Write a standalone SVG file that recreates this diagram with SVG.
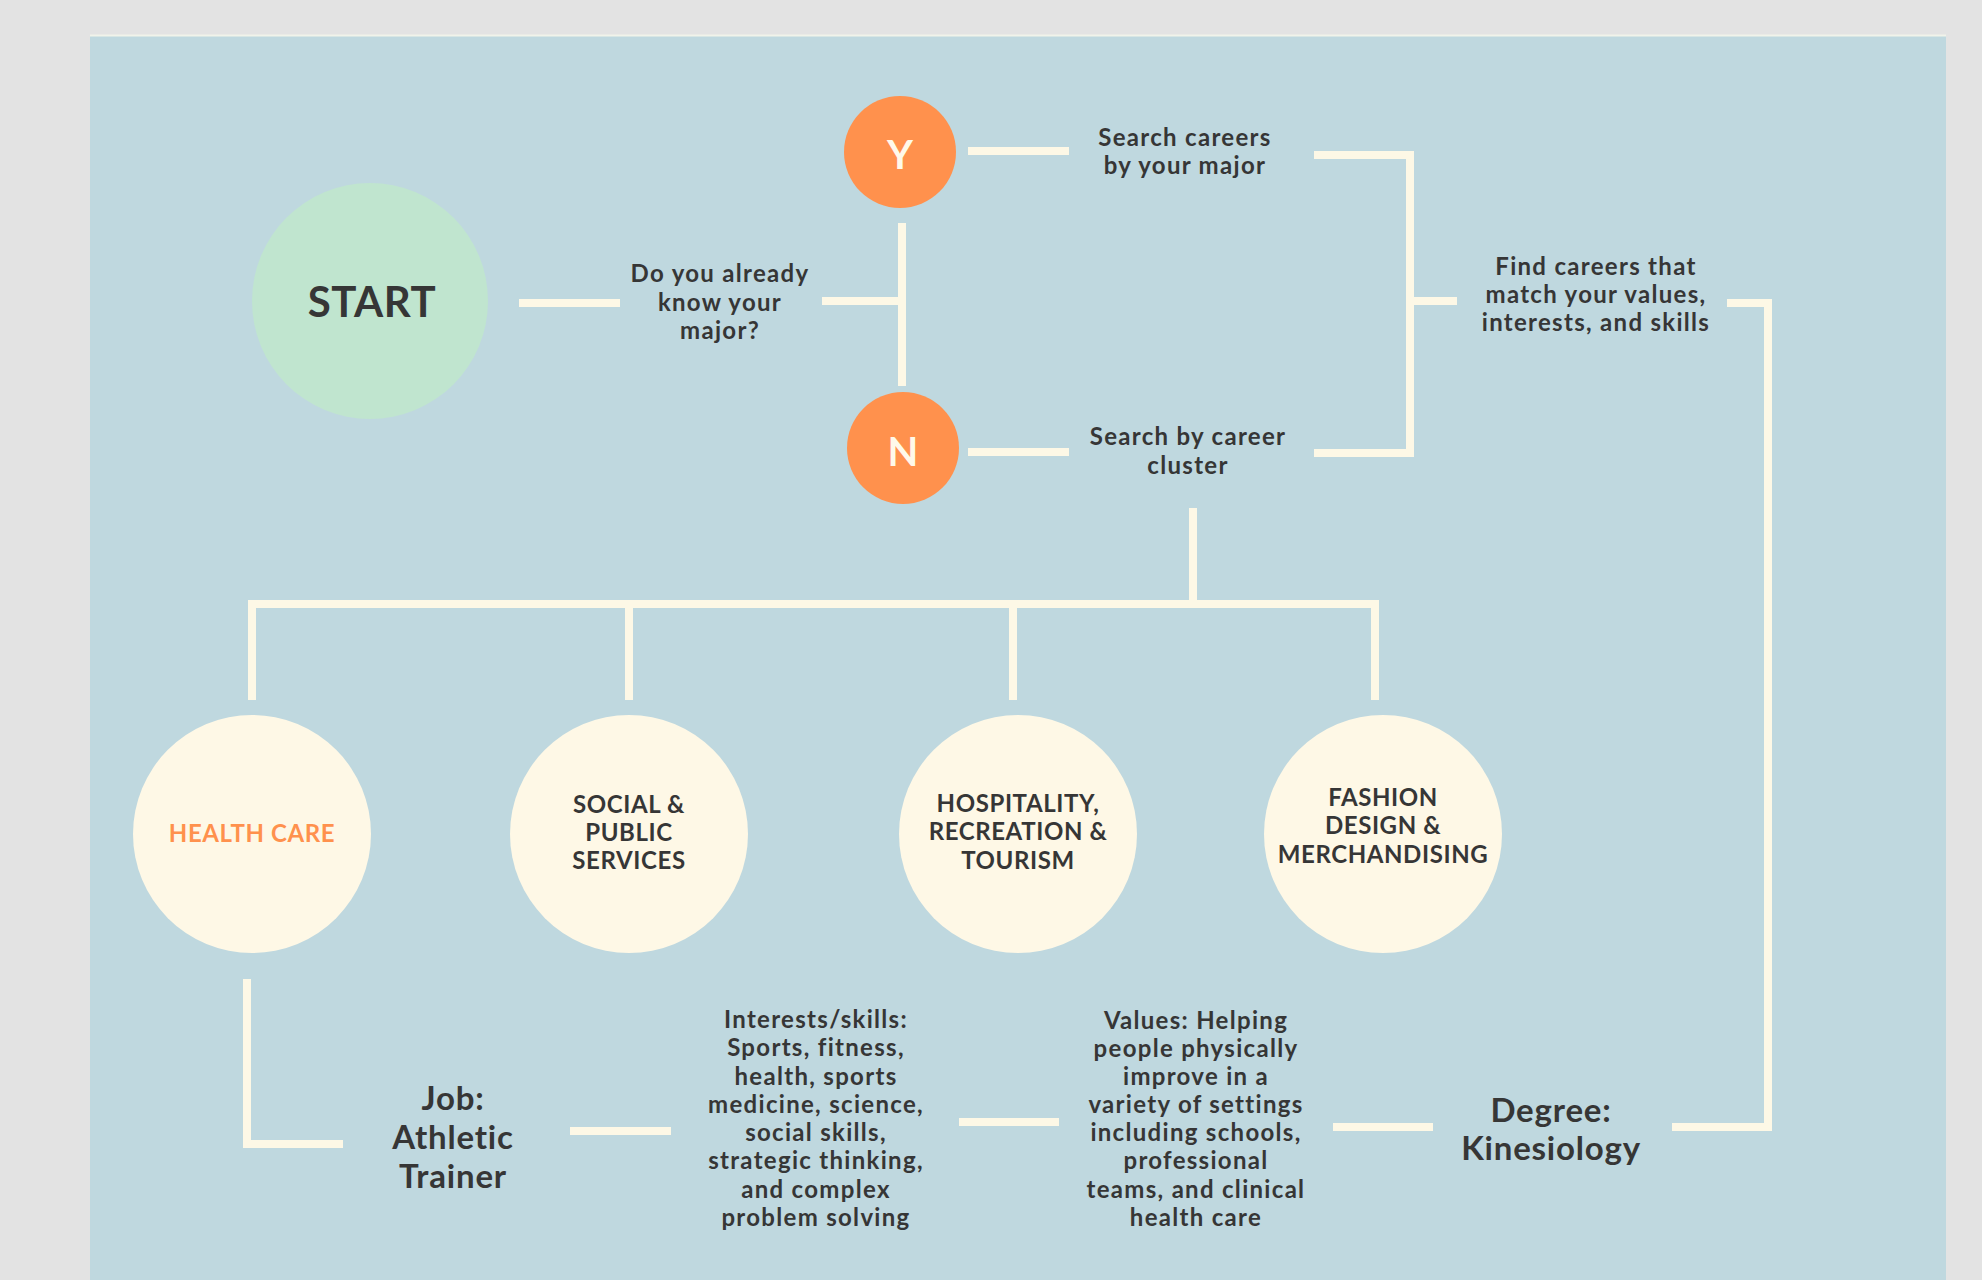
<svg xmlns="http://www.w3.org/2000/svg" width="1982" height="1280" viewBox="0 0 1982 1280">
<style>
.t{font-family:Lato,"Liberation Sans",sans-serif;font-weight:bold;fill:#363636;text-anchor:middle}
.s{font-size:24px;letter-spacing:1.3px}
.b{font-size:33px;letter-spacing:0.8px}
.c{font-size:24px;letter-spacing:0.6px}
.yn{font-family:Lato,"Liberation Sans",sans-serif;font-weight:bold;fill:#fff9ea;text-anchor:middle;font-size:40px}
.ln{fill:none;stroke:#fdf8e6;stroke-width:8}
.cat{fill:#fef8e6}
.or{fill:#ff914d}
</style>
<rect width="1982" height="1280" fill="#e3e3e3"/>
<rect x="90" y="35" width="1856" height="1245" fill="#bfd8df"/>
<line x1="90" y1="35.5" x2="1946" y2="35.5" stroke="#f1f3ea" stroke-width="2"/>
<g id="connectors">
<path class="ln" d="M519,303 H620"/>
<path class="ln" d="M822,301 H902"/>
<path class="ln" d="M902,223 V386"/>
<path class="ln" d="M968,151 H1069"/>
<path class="ln" d="M968,452 H1069"/>
<path class="ln" d="M1314,155 H1410 V453 H1314"/>
<path class="ln" d="M1410,301 H1457"/>
<path class="ln" d="M1727,303 H1768 V1127 H1672"/>
<path class="ln" d="M1193,508 V604"/>
<path class="ln" d="M252,700 V604 H1375 V700"/>
<path class="ln" d="M629,604 V700"/>
<path class="ln" d="M1013,604 V700"/>
<path class="ln" d="M247,979 V1144 H343"/>
<path class="ln" d="M570,1131 H671"/>
<path class="ln" d="M959,1122 H1059"/>
<path class="ln" d="M1333,1127 H1433"/>
</g>
<g id="start">
<circle cx="370" cy="301" r="118" fill="#c0e5cf"/>
<text class="t" x="372" y="317" font-size="42" letter-spacing="0.5">START</text>
</g>
<g id="question">
<text class="t s" x="720" y="282">Do you already</text>
<text class="t s" x="720" y="311">know your</text>
<text class="t s" x="720" y="339">major?</text>
</g>
<g id="yes">
<circle class="or" cx="900" cy="152" r="56"/>
<text class="yn" x="900" y="169">Y</text>
</g>
<g id="no">
<circle class="or" cx="903" cy="448" r="56"/>
<text class="yn" x="903" y="466">N</text>
</g>
<g id="search-major">
<text class="t s" x="1185" y="146">Search careers</text>
<text class="t s" x="1185" y="174">by your major</text>
</g>
<g id="search-cluster">
<text class="t s" x="1188" y="445">Search by career</text>
<text class="t s" x="1188" y="474">cluster</text>
</g>
<g id="find-careers">
<text class="t s" x="1596" y="275">Find careers that</text>
<text class="t s" x="1596" y="303">match your values,</text>
<text class="t s" x="1596" y="331">interests, and skills</text>
</g>
<g id="health-care">
<circle class="cat" cx="252" cy="834" r="119"/>
<text class="t c" x="252" y="842" style="fill:#ff914d">HEALTH CARE</text>
</g>
<g id="social">
<circle class="cat" cx="629" cy="834" r="119"/>
<text class="t c" x="629" y="813">SOCIAL &amp;</text>
<text class="t c" x="629" y="841">PUBLIC</text>
<text class="t c" x="629" y="869">SERVICES</text>
</g>
<g id="hospitality">
<circle class="cat" cx="1018" cy="834" r="119"/>
<text class="t c" x="1018" y="812">HOSPITALITY,</text>
<text class="t c" x="1018" y="840">RECREATION &amp;</text>
<text class="t c" x="1018" y="869">TOURISM</text>
</g>
<g id="fashion">
<circle class="cat" cx="1383" cy="834" r="119"/>
<text class="t c" x="1383" y="806">FASHION</text>
<text class="t c" x="1383" y="834">DESIGN &amp;</text>
<text class="t c" x="1383" y="863">MERCHANDISING</text>
</g>
<g id="job">
<text class="t b" x="453" y="1110">Job:</text>
<text class="t b" x="453" y="1149">Athletic</text>
<text class="t b" x="453" y="1188">Trainer</text>
</g>
<g id="interests">
<text class="t s" x="816" y="1028">Interests/skills:</text>
<text class="t s" x="816" y="1056">Sports, fitness,</text>
<text class="t s" x="816" y="1085">health, sports</text>
<text class="t s" x="816" y="1113">medicine, science,</text>
<text class="t s" x="816" y="1141">social skills,</text>
<text class="t s" x="816" y="1169">strategic thinking,</text>
<text class="t s" x="816" y="1198">and complex</text>
<text class="t s" x="816" y="1226">problem solving</text>
</g>
<g id="values">
<text class="t s" x="1196" y="1029">Values: Helping</text>
<text class="t s" x="1196" y="1057">people physically</text>
<text class="t s" x="1196" y="1085">improve in a</text>
<text class="t s" x="1196" y="1113">variety of settings</text>
<text class="t s" x="1196" y="1141">including schools,</text>
<text class="t s" x="1196" y="1169">professional</text>
<text class="t s" x="1196" y="1198">teams, and clinical</text>
<text class="t s" x="1196" y="1226">health care</text>
</g>
<g id="degree">
<text class="t b" x="1551" y="1122">Degree:</text>
<text class="t b" x="1551" y="1160">Kinesiology</text>
</g>
</svg>
